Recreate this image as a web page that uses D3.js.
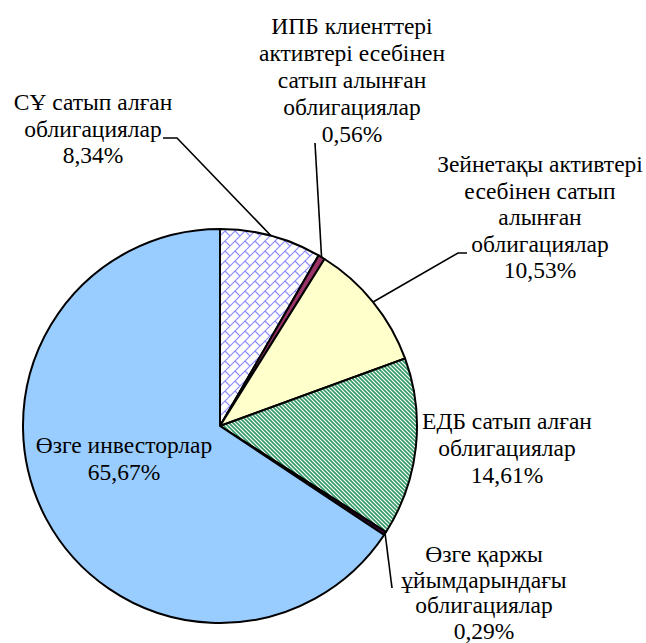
<!DOCTYPE html>
<html>
<head>
<meta charset="utf-8">
<script src="https://cdn.jsdelivr.net/npm/d3@7"></script>
<style>
  body { margin: 0; background: #fff; }
  svg { display: block; }
</style>
</head>
<body>
<div id="chart"></div>
<script>
// Data (clockwise from 12 o'clock)
var categoryLines = [
  ["СҰ сатып алған", "облигациялар"],
  ["ИПБ клиенттері", "активтері есебінен", "сатып алынған", "облигациялар"],
  ["Зейнетақы активтері", "есебінен сатып", "алынған", "облигациялар"],
  ["ЕДБ сатып алған", "облигациялар"],
  ["Өзге қаржы", "ұйымдарындағы", "облигациялар"],
  ["Өзге инвесторлар"]
];
var values = [8.34, 0.56, 10.53, 14.61, 0.29, 65.67];

// Styles
var fills = ["url(#brick)", "#993366", "#FFFFCC", "url(#stripes)", "#330033", "#99CCFF"];

// Label layout: text centre x, first baseline y, line step, leader bend points
var labelLayout = [
  { x: 93,  y: 110, step: 26.5, leader: [[177, 138], [163, 138]] },
  { x: 352, y: 34,  step: 27,   leader: [[315, 143]] },
  { x: 540, y: 172, step: 26.5, leader: [[458, 253], [467, 253]] },
  { x: 507, y: 429, step: 27,   leader: null },
  { x: 484, y: 562, step: 25.5, leader: [[392, 588]] },
  { x: 124, y: 453, step: 27,   leader: null }
];

var width = 646, height = 643;
var cx = 220, cy = 426, r = 197;

var svg = d3.select("#chart").append("svg")
  .attr("width", width)
  .attr("height", height);

var defs = svg.append("defs");

// diagonal brick pattern
var brick = defs.append("pattern")
  .attr("id", "brick")
  .attr("patternUnits", "userSpaceOnUse")
  .attr("width", 10).attr("height", 10);
brick.append("rect").attr("width", 10).attr("height", 10).attr("fill", "#fff");
brick.append("path")
  .attr("d", "M0,10L10,0M-1,1L1,-1M9,11L11,9M5,5L10,10")
  .attr("stroke", "#8888FF")
  .attr("stroke-width", 1.1)
  .attr("fill", "none");

// wide diagonal stripes
var stripes = defs.append("pattern")
  .attr("id", "stripes")
  .attr("patternUnits", "userSpaceOnUse")
  .attr("width", 4).attr("height", 4);
stripes.append("rect").attr("width", 4).attr("height", 4).attr("fill", "#fff");
stripes.append("path")
  .attr("d", "M0,0L4,4M-1,3L1,5M3,-1L5,1")
  .attr("stroke", "#339966")
  .attr("stroke-width", 1.6)
  .attr("fill", "none");

var pie = d3.pie().sort(null).value(function(d) { return d; });
var arcs = pie(values);

var arc = d3.arc().innerRadius(0).outerRadius(r);
var edgeArc = d3.arc().innerRadius(r).outerRadius(r);

var g = svg.append("g").attr("transform", "translate(" + cx + "," + cy + ")");

g.selectAll("path.slice")
  .data(arcs)
  .enter().append("path")
  .attr("class", "slice")
  .attr("d", arc)
  .attr("fill", function(d, i) { return fills[i]; })
  .attr("stroke", "#000")
  .attr("stroke-width", 2)
  .attr("stroke-linejoin", "round");

// leader lines
var line = d3.line();
arcs.forEach(function(d, i) {
  var lay = labelLayout[i];
  if (!lay.leader) return;
  var p = edgeArc.centroid(d);
  var pts = [[p[0] + cx, p[1] + cy]].concat(lay.leader);
  svg.append("path")
    .attr("d", line(pts))
    .attr("fill", "none")
    .attr("stroke", "#000")
    .attr("stroke-width", 1.6);
});

// labels
var fmt = d3.format(".2f");
arcs.forEach(function(d, i) {
  var lay = labelLayout[i];
  var lines = categoryLines[i].concat([fmt(values[i]).replace(".", ",") + "%"]);
  var t = svg.append("text")
    .attr("font-family", "Liberation Serif")
    .attr("font-size", 23.5)
    .attr("fill", "#000")
    .attr("text-anchor", "middle");
  lines.forEach(function(s, k) {
    t.append("tspan")
      .attr("x", lay.x)
      .attr("y", lay.y + k * lay.step)
      .text(s);
  });
});
</script>
</body>
</html>
